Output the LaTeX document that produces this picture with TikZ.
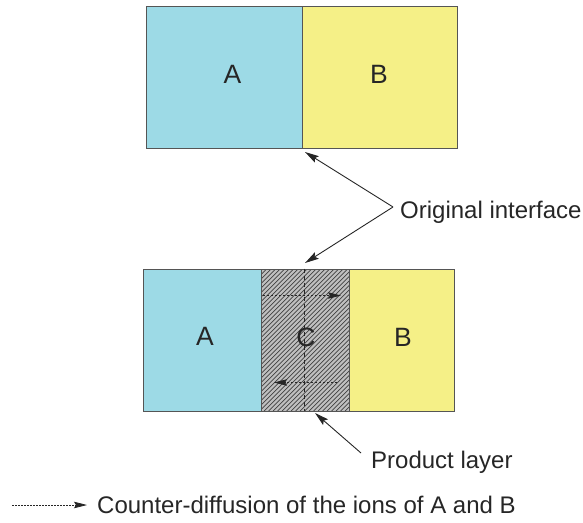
\documentclass[tikz,border=0pt]{standalone}
\usepackage{fontspec}
\setmainfont{Liberation Sans}
\usetikzlibrary{arrows.meta}
\definecolor{cyanA}{HTML}{9DDAE6}
\definecolor{yelB}{HTML}{F5F087}
\definecolor{edge}{HTML}{555555}
\begin{document}
\begin{tikzpicture}[x=1pt,y=-1pt,
  box/.style={draw=edge, line width=1.1pt, anchor=north west, inner sep=0pt, minimum height=142pt},
  boxtxt/.style={font=\fontsize{26.5}{30}\selectfont, text=black!85, inner sep=0pt},
  lbl/.style={font=\fontsize{24}{28}\selectfont, text=black!85, inner sep=0pt},
  arr/.style={line width=0.9pt, draw=black!85, -{Stealth[length=14pt,width=7.5pt,inset=2.5pt]}},
  diff/.style={dash pattern=on 2pt off 2pt, line width=0.8pt, draw=black!85, -{Stealth[length=13pt,width=6.5pt,inset=2pt]}}
]
\useasboundingbox (0,0) rectangle (583,522);
% top
\node[box, fill=cyanA, minimum width=156pt] (A1) at (146,6) {};
\node[box, fill=yelB, minimum width=155pt] (B1) at (302,6) {};
\node[boxtxt] (A1t) at (232.5,74.5) {A};
\node[boxtxt] (B1t) at (379,74.5) {B};
% bottom
\node[box, fill=cyanA, minimum width=118pt] (A2) at (143,268.5) {};
\node[box, fill=yelB, minimum width=105pt] (B2) at (349,268.5) {};
\node[box, fill=black!25, minimum width=88pt,
  path picture={
    \foreach \i in {-200,-195.5,...,200}{
      \draw[line width=0.75pt, black!75] ([xshift=\i pt]path picture bounding box.south west) -- ++(200pt,200pt);
    }
  }] (C) at (261,268.5) {};
\node[boxtxt] (A2t) at (205,336) {A};
\node[boxtxt] (Ct) at (306,337) {C};
\node[boxtxt] (B2t) at (403,337.5) {B};
% internal dashed lines
\coordinate (vt) at (304,268.5);
\coordinate (vb) at (304,410.5);
\draw[line width=0.8pt, black!85, dash pattern=on 4pt off 3pt] (vt) -- (vb);
\coordinate (d1s) at (263,295.5);
\coordinate (d1e) at (341,295.5);
\coordinate (d2s) at (337,382.5);
\coordinate (d2e) at (274,382.5);
\draw[diff] (d1s) -- (d1e);
\draw[diff] (d2s) -- (d2e);
% labels
\node[lbl, anchor=west] (OI) at (400,212) {Original interface};
\node[lbl, anchor=west] (PL) at (371,462) {Product layer};
\coordinate (oi) at (393,207);
\coordinate (t1) at (305,152);
\coordinate (t2) at (305,263);
\draw[arr] (oi) -- (t1);
\draw[arr] (oi) -- (t2);
\coordinate (pl) at (361,453);
\coordinate (t3) at (315,413);
\draw[arr] (pl) -- (t3);
% legend
\coordinate (l1) at (12,505);
\coordinate (l2) at (87,505);
\draw[diff, dash pattern=on 1.5pt off 1.5pt] (l1) -- (l2);
\node[lbl, anchor=west] (LG) at (97,505) {Counter-diffusion of the ions of A and B};
\end{tikzpicture}
\end{document}
